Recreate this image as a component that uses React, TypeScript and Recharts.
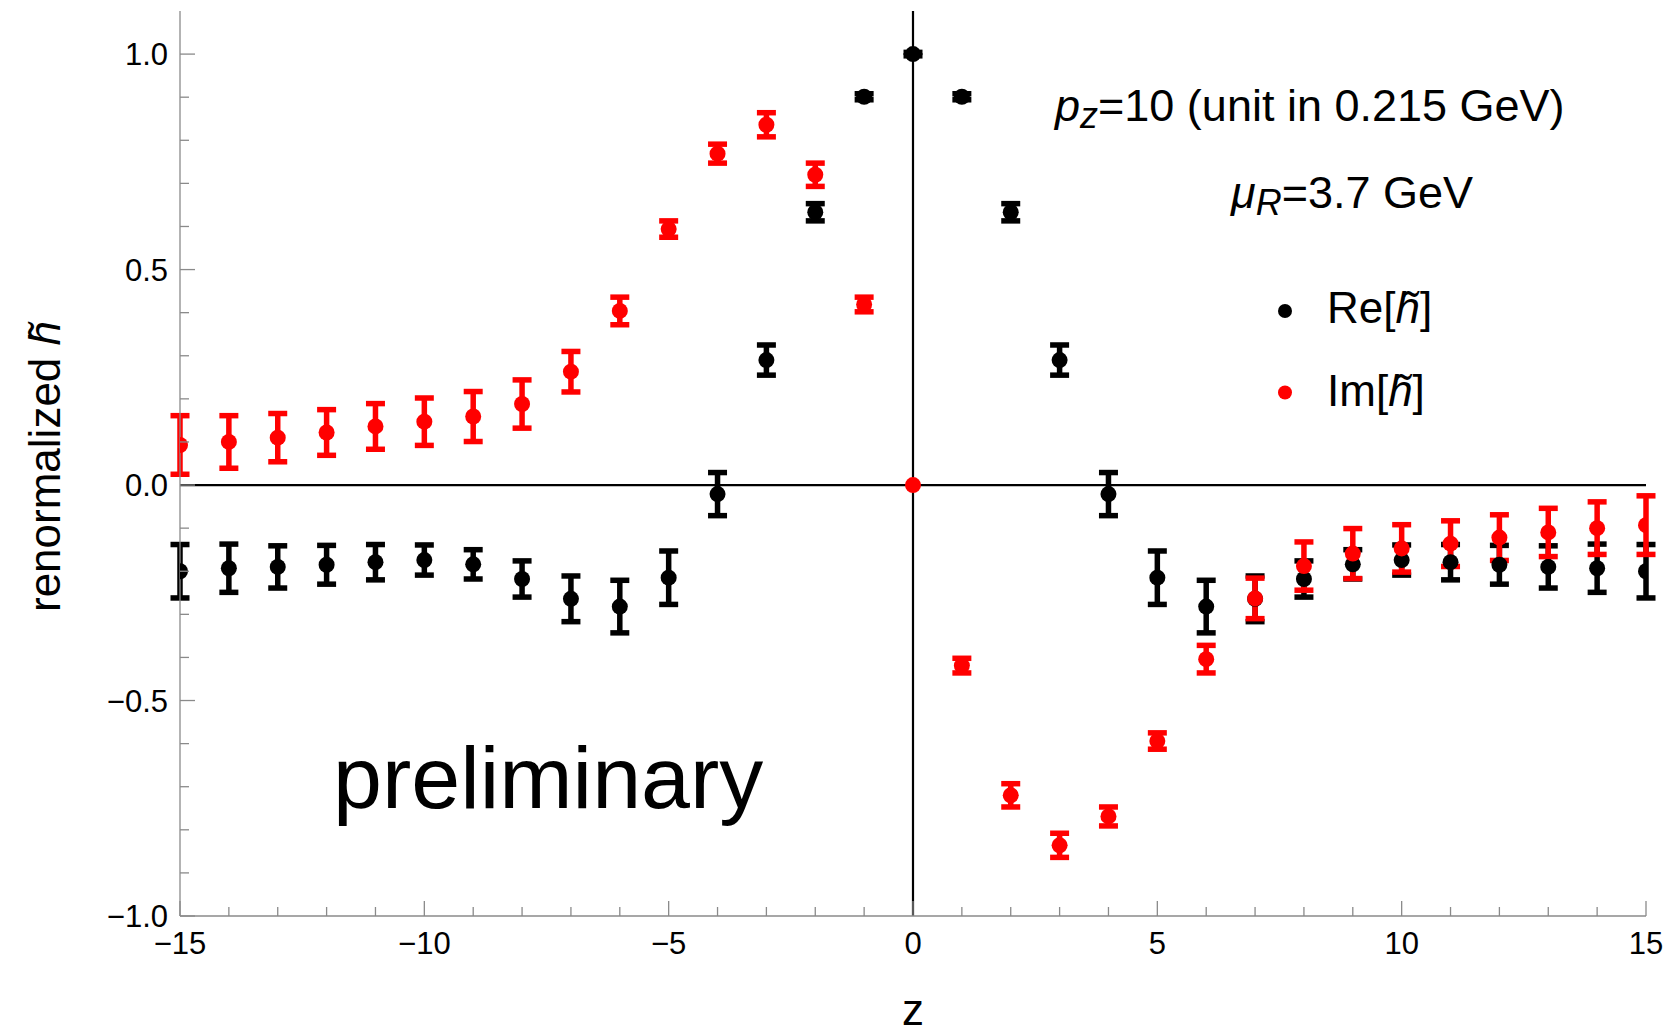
import React from 'react';
import { ScatterChart, Scatter, XAxis, YAxis, ErrorBar, ReferenceLine, Legend } from 'recharts';

const zValues = [-15, -14, -13, -12, -11, -10, -9, -8, -7, -6, -5, -4, -3, -2, -1, 0, 1, 2, 3, 4, 5, 6, 7, 8, 9, 10, 11, 12, 13, 14, 15];

const reValues = [-0.2, -0.193, -0.19, -0.185, -0.179, -0.174, -0.184, -0.218, -0.264, -0.282, -0.215, -0.021, 0.29, 0.633, 0.901, 1.0, 0.901, 0.633, 0.29, -0.021, -0.215, -0.282, -0.264, -0.218, -0.184, -0.174, -0.179, -0.185, -0.19, -0.193, -0.2];
const reErrors = [0.062, 0.056, 0.049, 0.045, 0.041, 0.035, 0.034, 0.042, 0.053, 0.061, 0.062, 0.05, 0.035, 0.02, 0.007, 0.004, 0.007, 0.02, 0.035, 0.05, 0.062, 0.061, 0.053, 0.042, 0.034, 0.035, 0.041, 0.045, 0.049, 0.056, 0.062];

const imValues = [0.093, 0.1, 0.11, 0.122, 0.136, 0.147, 0.159, 0.188, 0.263, 0.404, 0.594, 0.769, 0.836, 0.72, 0.419, 0.0, -0.419, -0.72, -0.836, -0.769, -0.594, -0.404, -0.263, -0.188, -0.159, -0.147, -0.136, -0.122, -0.11, -0.1, -0.093];
const imErrors = [0.068, 0.061, 0.056, 0.053, 0.053, 0.055, 0.058, 0.056, 0.047, 0.032, 0.019, 0.022, 0.028, 0.027, 0.017, 0.0, 0.017, 0.027, 0.028, 0.022, 0.019, 0.032, 0.047, 0.056, 0.058, 0.055, 0.053, 0.053, 0.056, 0.061, 0.068];

const xTickValues = [-15, -14, -13, -12, -11, -10, -9, -8, -7, -6, -5, -4, -3, -2, -1, 0, 1, 2, 3, 4, 5, 6, 7, 8, 9, 10, 11, 12, 13, 14, 15];
const xMajorTicks = [-15, -10, -5, 0, 5, 10, 15];
const yTickValues = [-1, -0.9, -0.8, -0.7, -0.6, -0.5, -0.4, -0.3, -0.2, -0.1, 0, 0.1, 0.2, 0.3, 0.4, 0.5, 0.6, 0.7, 0.8, 0.9, 1];
const yMajorTicks = [-1, -0.5, 0, 0.5, 1];

const seriesNames = ['Re', 'Im'];
const seriesColors = ['#000000', '#ff0000'];

const reData = zValues.map((z, i) => ({ z, v: reValues[i], err: reErrors[i] }));
const imData = zValues.map((z, i) => ({ z, v: imValues[i], err: imErrors[i] }));

const FONT = '"Liberation Sans", Arial, Helvetica, sans-serif';
const FRAME = '#8a8a8a';
const MAJOR = 15;
const MINOR = 9;
const TICK_FONT = 31;

const minus = (s: string) => s.replace('-', '\u2212');
const isMajorX = (v: number) => xMajorTicks.some((m) => Math.abs(m - v) < 1e-9);
const isMajorY = (v: number) => yMajorTicks.some((m) => Math.abs(m - v) < 1e-9);

const BottomTick = (props: any) => {
  const { x, y, payload } = props;
  const v = payload.value;
  const major = isMajorX(v);
  return (
    <g>
      <line x1={x} x2={x} y1={y} y2={y - (major ? MAJOR : MINOR)} stroke={FRAME} strokeWidth={1.3} />
      {major && (
        <text x={x} y={y + 38} textAnchor="middle" fontSize={TICK_FONT} fontFamily={FONT} fill="#000">
          {minus(String(v))}
        </text>
      )}
    </g>
  );
};

const TopTick = (props: any) => {
  const { x, y, payload } = props;
  const major = isMajorX(payload.value);
  return <line x1={x} x2={x} y1={y} y2={y + (major ? MAJOR : MINOR)} stroke={FRAME} strokeWidth={1.3} />;
};

const LeftTick = (props: any) => {
  const { x, y, payload } = props;
  const v = payload.value;
  const major = isMajorY(v);
  return (
    <g>
      <line x1={x} x2={x + (major ? MAJOR : MINOR)} y1={y} y2={y} stroke={FRAME} strokeWidth={1.3} />
      {major && (
        <text x={x - 12} y={y + 11} textAnchor="end" fontSize={TICK_FONT} fontFamily={FONT} fill="#000">
          {minus(v.toFixed(1))}
        </text>
      )}
    </g>
  );
};

const RightTick = (props: any) => {
  const { x, y, payload } = props;
  const major = isMajorY(payload.value);
  return <line x1={x} x2={x - (major ? MAJOR : MINOR)} y1={y} y2={y} stroke={FRAME} strokeWidth={1.3} />;
};

const dotShape = (color: string) => (props: any) => (
  <circle cx={props.cx} cy={props.cy} r={8} fill={color} />
);

const LegendContent = () => (
  <svg width={250} height={150} style={{ overflow: 'visible' }}>
    {seriesNames.map((name, i) => (
      <g key={name}>
        <circle cx={15} cy={31 + i * 81.5} r={7} fill={seriesColors[i]} />
        <text x={57} y={43 + i * 83} fontSize={44} fontFamily={FONT} fill="#000">
          {name}[<tspan fontStyle="italic">h&#x0303;</tspan>]
        </text>
      </g>
    ))}
  </svg>
);

export default function App() {
  return (
    <div style={{ position: 'absolute', left: 0, top: 0, width: 1668, height: 1036, background: '#fff' }}>
      <ScatterChart width={1668} height={1036} margin={{ top: 11, right: 22, bottom: 60, left: 100 }}>
        <XAxis
          xAxisId={0}
          dataKey="z"
          type="number"
          domain={[-15, 15]}
          allowDataOverflow
          ticks={xTickValues}
          interval={0}
          height={60}
          tickSize={0}
          tickMargin={0}
          tickLine={false}
          axisLine={{ stroke: FRAME, strokeWidth: 1.3 }}
          tick={BottomTick}
        />
        <XAxis
          xAxisId="top"
          orientation="top"
          type="number"
          domain={[-15, 15]}
          allowDataOverflow
          ticks={xTickValues}
          interval={0}
          height={0}
          tickSize={0}
          tickMargin={0}
          tickLine={false}
          axisLine={{ stroke: FRAME, strokeWidth: 1.3 }}
          tick={TopTick}
        />
        <YAxis
          yAxisId={0}
          dataKey="v"
          type="number"
          domain={[-1, 1.1]}
          allowDataOverflow
          ticks={yTickValues}
          interval={0}
          width={80}
          tickSize={0}
          tickMargin={0}
          tickLine={false}
          axisLine={{ stroke: FRAME, strokeWidth: 1.3 }}
          tick={LeftTick}
        />
        <YAxis
          yAxisId="right"
          orientation="right"
          type="number"
          domain={[-1, 1.1]}
          allowDataOverflow
          ticks={yTickValues}
          interval={0}
          width={0}
          tickSize={0}
          tickMargin={0}
          tickLine={false}
          axisLine={{ stroke: FRAME, strokeWidth: 1.3 }}
          tick={RightTick}
        />
        <ReferenceLine x={0} stroke="#000" strokeWidth={2.2} />
        <ReferenceLine y={0} stroke="#000" strokeWidth={2.2} />
        <Scatter name="Re" data={reData} dataKey="v" fill={seriesColors[0]} shape={dotShape(seriesColors[0])} isAnimationActive={false}>
          <ErrorBar dataKey="err" direction="y" width={9.5} strokeWidth={5.5} stroke={seriesColors[0]} isAnimationActive={false} />
        </Scatter>
        <Scatter name="Im" data={imData} dataKey="v" fill={seriesColors[1]} shape={dotShape(seriesColors[1])} isAnimationActive={false}>
          <ErrorBar dataKey="err" direction="y" width={9.5} strokeWidth={5.5} stroke={seriesColors[1]} isAnimationActive={false} />
        </Scatter>
        <Legend
          layout="vertical"
          align="center"
          verticalAlign="middle"
          content={LegendContent}
          wrapperStyle={{ left: 1270, top: 280, width: 250, height: 150 }}
        />
      </ScatterChart>
      <svg width={1668} height={1036} style={{ position: 'absolute', left: 0, top: 0, pointerEvents: 'none' }}>
        <text transform="translate(60,612) rotate(-90)" fontSize={44} fontFamily={FONT} fill="#000">
          renormalized <tspan fontStyle="italic">h&#x0303;</tspan>
        </text>
        <text x={913} y={1025} textAnchor="middle" fontSize={44} fontFamily={FONT} fill="#000">z</text>
        <text x={1055} y={121} fontSize={45} fontFamily={FONT} fill="#000">
          <tspan fontStyle="italic">p</tspan>
          <tspan fontStyle="italic" fontSize={36} dy={7}>z</tspan>
          <tspan dy={-7}>=10 (unit in 0.215 GeV)</tspan>
        </text>
        <text x={1231} y={208} fontSize={45} fontFamily={FONT} fill="#000">
          <tspan fontStyle="italic">μ</tspan>
          <tspan fontStyle="italic" fontSize={36} dy={7}>R</tspan>
          <tspan dy={-7}>=3.7 GeV</tspan>
        </text>
        <text x={333} y={808} fontSize={88} fontFamily={FONT} fill="#000">preliminary</text>
      </svg>
    </div>
  );
}
